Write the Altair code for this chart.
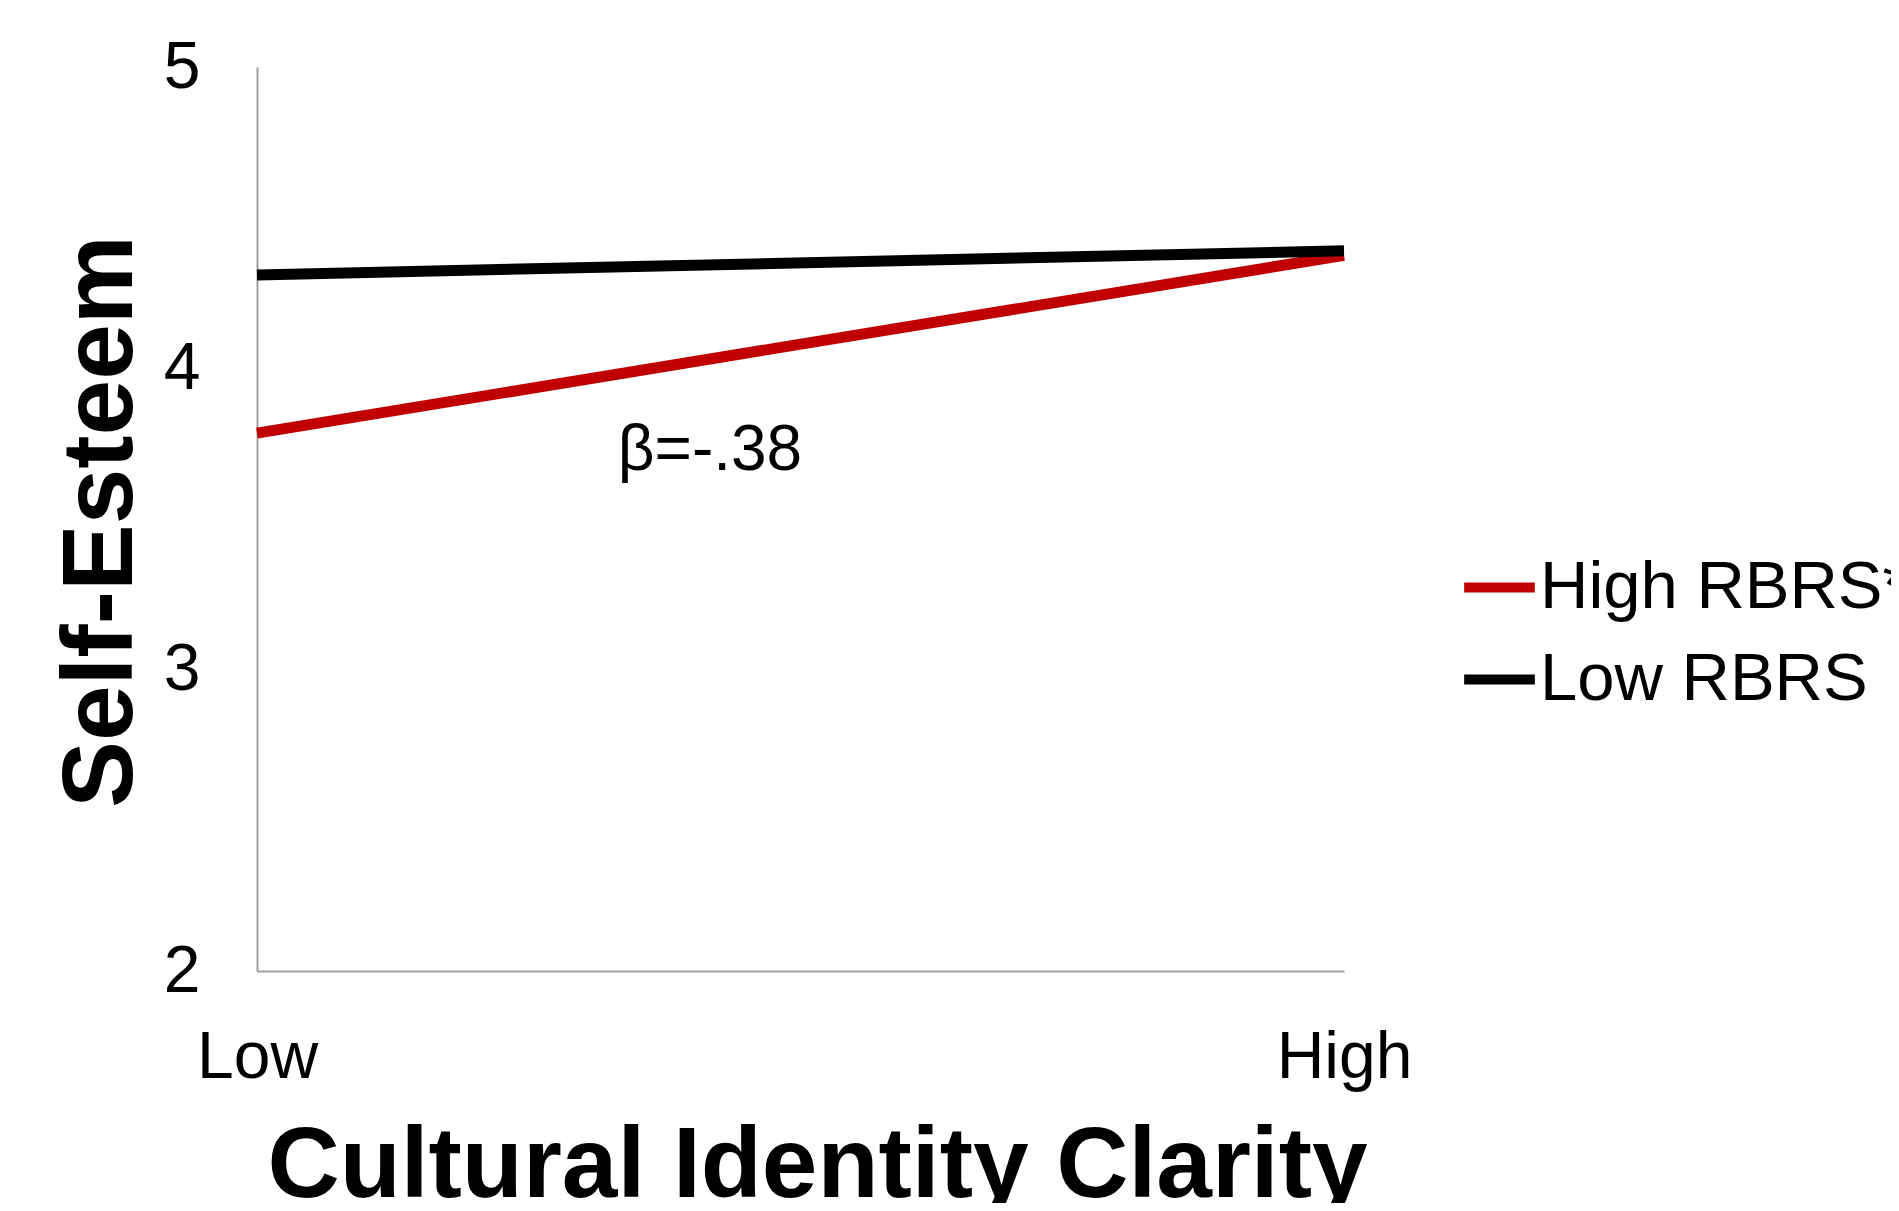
import altair as alt
import pandas as pd

# ---- data ----
categories = ["Low", "High"]                 # Cultural Identity Clarity
series_names = ["High RBRS*", "Low RBRS"]
high_rbrs = [3.785, 4.375]                   # red line
low_rbrs = [4.31, 4.39]                      # black line
series_colors = ["#C00000", "#000000"]
y_ticks = [2, 3, 4, 5]

# annotation (data coordinates: x as fraction Low->High, y in Self-Esteem units)
annot_text = ["β=-.38"]
annot_x = [0.4167]
annot_y = [3.663]

rows = []
for name, vals in zip(series_names, [high_rbrs, low_rbrs]):
    for i, (c, v) in enumerate(zip(categories, vals)):
        rows.append({"series": name, "cat": c, "pos": i, "value": v})
df = pd.DataFrame(rows)
ann = pd.DataFrame({"label": annot_text, "x": annot_x, "y": annot_y})

FONT = "Liberation Sans"

x_enc = alt.X(
    "pos:Q",
    scale=alt.Scale(domain=[0, len(categories) - 1], nice=False, zero=False),
    axis=alt.Axis(
        values=list(range(len(categories))),
        labelExpr="datum.value == 0 ? 'Low' : 'High'",
        title="Cultural Identity Clarity",
        titleFontSize=100,
        titleFontWeight="bold",
        titleX=560,
        titleY=225,
        titleAlign="center",
        titleBaseline="alphabetic",
        labelFontSize=66,
        labelPadding=54,
        labelBaseline="top",
        labelAlign="center",
        labelFlush=False,
    ),
)
y_enc = alt.Y(
    "value:Q",
    scale=alt.Scale(domain=[2, 5], nice=False, zero=False),
    axis=alt.Axis(
        values=y_ticks,
        format="d",
        title="Self-Esteem",
        titleFontSize=100,
        titleFontWeight="bold",
        titleAngle=270,
        titleX=-126,
        titleY=454,
        titleAlign="center",
        titleBaseline="alphabetic",
        labelFontSize=66,
        labelPadding=57,
        labelBaseline="middle",
        labelOffset=0,
        labelFlush=False,
    ),
)
color_enc = alt.Color(
    "series:N",
    scale=alt.Scale(domain=series_names, range=series_colors),
    sort=series_names,
    legend=alt.Legend(
        title=None,
        orient="none",
        legendX=1202,
        legendY=480,
        symbolType="stroke",
        symbolSize=5000,
        symbolStrokeWidth=10,
        labelFontSize=67,
        labelFont=FONT,
        labelColor="#000000",
        labelOffset=0,
        labelLimit=1000,
        rowPadding=18,
        padding=0,
    ),
)

base = alt.Chart(df)
red = base.transform_filter(alt.datum.series == series_names[0]).mark_line(strokeWidth=11).encode(
    x=x_enc, y=y_enc, color=color_enc
)
black = base.transform_filter(alt.datum.series == series_names[1]).mark_line(strokeWidth=11).encode(
    x=x_enc, y=y_enc, color=color_enc
)
text = alt.Chart(ann).mark_text(
    fontSize=64, font=FONT, align="center", baseline="alphabetic", color="#000000"
).encode(
    x=alt.X("x:Q"),
    y=alt.Y("y:Q"),
    text="label:N",
)

chart = (
    alt.layer(red, black, text)
    .properties(
        width=1087,
        height=904,
        autosize=alt.AutoSizeParams(type="none"),
        padding={"left": 249, "top": 59, "right": 547, "bottom": 232},
        background="#ffffff",
    )
    .configure_view(strokeWidth=0)
    .configure_axis(
        domainColor="#a0a0a0",
        domainWidth=2,
        ticks=False,
        grid=False,
        labelFont=FONT,
        titleFont=FONT,
        labelColor="#000000",
        titleColor="#000000",
    )
)

chart.save("out.html", embed_options={"renderer": "svg", "actions": False})
